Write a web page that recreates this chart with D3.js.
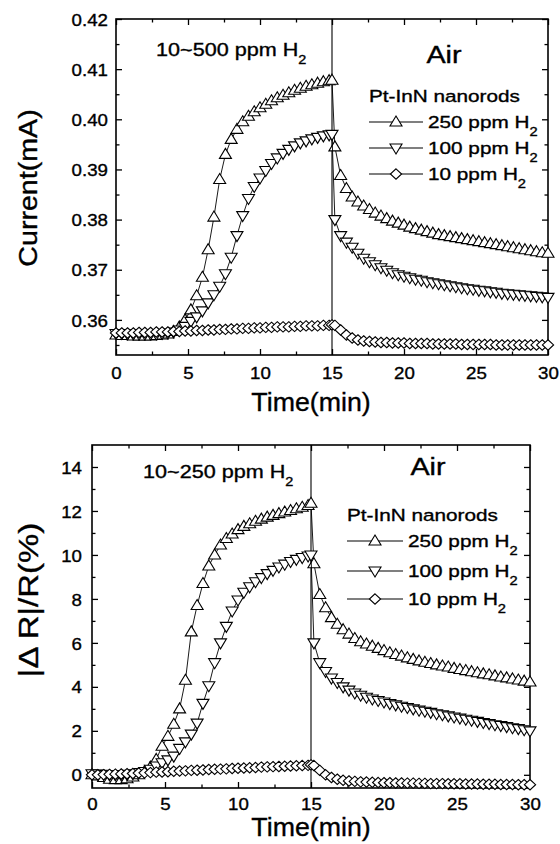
<!DOCTYPE html>
<html><head><meta charset="utf-8">
<script src="https://cdn.jsdelivr.net/npm/d3@7"></script>
<style>
html,body{margin:0;padding:0;background:#fff;}
svg{display:block;}
text{font-family:"Liberation Sans",Arial,Helvetica,sans-serif;fill:#000;stroke:#000;stroke-width:0.35px;}
</style>
</head><body>
<svg id="c" width="560" height="844"></svg>
<script>
// ---------------- DATA ----------------
const time = [0,0.4,0.8,1.2,1.6,2,2.4,2.8,3.2,3.6,4,4.4,4.8,5.2,5.6,6,6.4,6.8,7.2,7.6,8,8.4,8.8,9.2,9.6,10,10.4,10.8,11.2,11.6,12,12.4,12.8,13.2,13.6,14,14.4,14.8,15,
  15.2,15.6,16,16.4,16.8,17.2,17.6,18,18.4,18.8,19.2,19.6,20,20.4,20.8,21.2,21.6,22,22.4,22.8,23.2,23.6,24,24.4,24.8,25.2,25.6,26,26.4,26.8,27.2,27.6,28,28.4,28.8,29.2,29.6,30];

const current250 = [0.3570,0.3569,0.3569,0.3568,0.3568,0.3568,0.3568,0.3569,0.3570,0.3572,0.3577,0.3586,0.3600,0.3620,0.3648,0.3685,0.3740,0.3805,0.3880,0.3930,0.3960,0.3980,0.3995,0.4006,0.4015,0.4023,0.4030,0.4037,0.4043,0.4048,0.4053,0.4058,0.4062,0.4066,0.4069,0.4072,0.4075,0.4077,0.4078,
  0.3945,0.3888,0.3862,0.3845,0.3835,0.3827,0.3820,0.3813,0.3807,0.3802,0.3797,0.3793,0.3789,0.3785,0.3782,0.3779,0.3776,0.3773,0.3770,0.3768,0.3766,0.3764,0.3762,0.3760,0.3758,0.3756,0.3754,0.3752,0.3750,0.3748,0.3746,0.3744,0.3742,0.3740,0.3738,0.3736,0.3734,0.3733];
const current100 = [0.3573,0.3573,0.3572,0.3572,0.3572,0.3572,0.3572,0.3572,0.3573,0.3574,0.3576,0.3580,0.3587,0.3597,0.3606,0.3618,0.3634,0.3650,0.3667,0.3692,0.3725,0.3768,0.3808,0.3842,0.3866,0.3883,0.3898,0.3912,0.3923,0.3932,0.3940,0.3947,0.3953,0.3957,0.3961,0.3964,0.3967,0.3969,0.3970,
  0.3800,0.3768,0.3755,0.3745,0.3733,0.3723,0.3716,0.3710,0.3704,0.3699,0.3694,0.3690,0.3687,0.3684,0.3681,0.3679,0.3676,0.3674,0.3672,0.3670,0.3668,0.3666,0.3664,0.3662,0.3661,0.3659,0.3658,0.3656,0.3655,0.3653,0.3652,0.3651,0.3650,0.3649,0.3648,0.3647,0.3646,0.3645];
const current10 = [0.3574,0.3574,0.3574,0.3574,0.3575,0.3575,0.3575,0.3576,0.3576,0.3576,0.3577,0.3577,0.3578,0.3578,0.3579,0.3579,0.3580,0.3580,0.3581,0.3581,0.3582,0.3582,0.3583,0.3583,0.3584,0.3584,0.3585,0.3585,0.3586,0.3586,0.3586,0.3587,0.3587,0.3588,0.3588,0.3588,0.3589,0.3589,0.3590,
  0.3589,0.3580,0.3570,0.3564,0.3560,0.3558,0.3557,0.3556,0.3555,0.3555,0.3554,0.3554,0.3554,0.3553,0.3553,0.3553,0.3553,0.3552,0.3552,0.3552,0.3552,0.3552,0.3551,0.3551,0.3551,0.3551,0.3551,0.3551,0.3550,0.3550,0.3550,0.3550,0.3550,0.3550,0.3550,0.3550,0.3550,0.3550];

const resp250 = [0.0,-0.05,-0.12,-0.2,-0.22,-0.22,-0.18,-0.1,0.0,0.15,0.35,0.7,1.3,1.75,2.3,3.0,4.3,6.5,7.7,8.7,9.5,10.0,10.45,10.75,10.95,11.15,11.3,11.42,11.53,11.63,11.72,11.8,11.88,11.95,12.02,12.1,12.17,12.25,12.35,
  9.6,8.2,7.6,7.15,6.85,6.6,6.4,6.2,6.05,5.95,5.85,5.75,5.65,5.55,5.47,5.4,5.32,5.25,5.18,5.12,5.06,5.0,4.95,4.9,4.84,4.79,4.74,4.69,4.64,4.59,4.55,4.5,4.45,4.41,4.36,4.31,4.26,4.22];
const resp100 = [0.05,0.04,0.02,0.0,0.0,0.0,0.02,0.05,0.1,0.15,0.25,0.4,0.55,0.68,0.85,1.2,1.5,1.85,2.35,3.25,4.05,5.1,6.0,6.75,7.45,7.95,8.3,8.55,8.78,8.97,9.15,9.3,9.45,9.58,9.7,9.8,9.88,9.95,10.0,
  6.0,5.1,4.7,4.4,4.2,4.0,3.85,3.72,3.62,3.53,3.45,3.38,3.31,3.24,3.18,3.12,3.06,3.0,2.94,2.89,2.84,2.78,2.73,2.68,2.63,2.58,2.53,2.48,2.43,2.38,2.33,2.28,2.24,2.19,2.14,2.1,2.05,2.0];
const resp10 = [0.0,0.0,0.01,0.02,0.03,0.04,0.05,0.06,0.08,0.09,0.1,0.12,0.13,0.14,0.16,0.17,0.18,0.2,0.21,0.22,0.24,0.25,0.26,0.27,0.29,0.3,0.31,0.32,0.33,0.35,0.36,0.37,0.38,0.39,0.4,0.41,0.42,0.43,0.45,
  0.42,0.2,0.0,-0.12,-0.2,-0.25,-0.28,-0.3,-0.32,-0.33,-0.34,-0.35,-0.36,-0.36,-0.37,-0.37,-0.38,-0.38,-0.39,-0.39,-0.4,-0.4,-0.4,-0.41,-0.41,-0.41,-0.42,-0.42,-0.42,-0.43,-0.43,-0.43,-0.44,-0.44,-0.44,-0.45,-0.45,-0.45];

const seriesNames = ["250 ppm H", "100 ppm H", "10 ppm H"];
const seriesShapes = ["up", "down", "diamond"];
const switchTime = 15;

const xTicks = [0,5,10,15,20,25,30];
const xMinor = [2.5,7.5,12.5,17.5,22.5,27.5];
const topYTicks = [0.36,0.37,0.38,0.39,0.40,0.41,0.42];
const topYMinor = [0.355,0.365,0.375,0.385,0.395,0.405,0.415];
const botYTicks = [0,2,4,6,8,10,12,14];
const botYMinor = [1,3,5,7,9,11,13];

// ---------------- DRAW ----------------
const svg = d3.select("#c");
const shapePath = {
  up: "M0,-6L6,4L-6,4Z",
  down: "M0,6L6,-4L-6,-4Z",
  diamond: "M0,-5.2L5.6,0L0,5.2L-5.6,0Z"
};

function label(g, x, y, str, size, anchor, s, subSize, subDy) {
  const t = g.append("text")
    .attr("transform", `translate(${x},${y}) scale(${s},1)`)
    .attr("text-anchor", anchor || "start")
    .style("font-size", size + "px")
    .text(str);
  if (subSize) {
    t.append("tspan").attr("dy", subDy).style("font-size", subSize + "px").text("2");
  }
  return t;
}

function panel(cfg) {
  const g = svg.append("g");
  const x = d3.scaleLinear().domain([0, 30]).range([cfg.left, cfg.right]);
  const y = d3.scaleLinear().domain(cfg.yDomain).range([cfg.bottom, cfg.top]);
  const TS = 1.1;

  const ax = (axis, tr) => {
    const a = g.append("g").attr("transform", tr).call(axis);
    a.select(".domain").remove();
    a.selectAll("line").attr("stroke", "#000").attr("stroke-width", 1.3);
    a.attr("font-family", null).attr("font-size", null);
    return a;
  };
  const bx = ax(d3.axisBottom(x).tickValues(xTicks).tickSize(-6).tickPadding(cfg.xPad).tickFormat(d3.format("d")), `translate(0,${cfg.bottom})`);
  ax(d3.axisBottom(x).tickValues(xMinor).tickSize(-3.5).tickFormat(""), `translate(0,${cfg.bottom})`);
  ax(d3.axisTop(x).tickValues(xTicks).tickSize(-6).tickFormat(""), `translate(0,${cfg.top})`);
  ax(d3.axisTop(x).tickValues(xMinor).tickSize(-3.5).tickFormat(""), `translate(0,${cfg.top})`);
  const ly = ax(d3.axisLeft(y).tickValues(cfg.yTicks).tickSize(-6).tickPadding(cfg.yPad).tickFormat(cfg.yFormat), `translate(${cfg.left},0)`);
  ax(d3.axisLeft(y).tickValues(cfg.yMinor).tickSize(-3.5).tickFormat(""), `translate(${cfg.left},0)`);
  ax(d3.axisRight(y).tickValues(cfg.yTicks).tickSize(-6).tickFormat(""), `translate(${cfg.right},0)`);
  ax(d3.axisRight(y).tickValues(cfg.yMinor).tickSize(-3.5).tickFormat(""), `translate(${cfg.right},0)`);

  bx.selectAll("text").style("font-size", cfg.tickSize + "px").attr("transform", `scale(${TS},1)`);
  ly.selectAll("text").style("font-size", cfg.tickSize + "px").attr("x", -cfg.yPad / TS).attr("dy", "0.36em")
    .attr("transform", `scale(${TS},1)`);

  g.append("rect").attr("x", cfg.left).attr("y", cfg.top)
    .attr("width", cfg.right - cfg.left).attr("height", cfg.bottom - cfg.top)
    .attr("fill", "none").attr("stroke", "#000").attr("stroke-width", 1.6);

  g.append("line").attr("x1", x(switchTime)).attr("x2", x(switchTime))
    .attr("y1", cfg.top).attr("y2", cfg.bottom).attr("stroke", "#000").attr("stroke-width", 1.1);

  const line = d3.line().x((d, i) => x(time[i])).y(d => y(d));
  cfg.series.forEach((vals, si) => {
    const sg = g.append("g");
    sg.append("path").attr("d", line(vals)).attr("fill", "none").attr("stroke", "#000").attr("stroke-width", 0.9);
    sg.selectAll("path.m").data(vals).join("path").attr("class", "m")
      .attr("transform", (d, i) => `translate(${x(time[i])},${y(d)})`)
      .attr("d", shapePath[seriesShapes[si]])
      .attr("fill", "#fff").attr("stroke", "#000").attr("stroke-width", 1.1);
  });

  // axis titles
  label(g, cfg.xTitleX, cfg.xTitleY, "Time(min)", 25, "middle", 1.07);
  g.append("text")
    .attr("transform", `translate(${cfg.yTitleX},${cfg.yTitleY}) rotate(-90) scale(${cfg.yTitleS},1)`)
    .attr("text-anchor", "middle").style("font-size", cfg.yTitleSize + "px").text(cfg.yTitle);

  // annotations
  label(g, cfg.gasX, cfg.gasY, cfg.gasText, 18, "start", 1.2, 12, 8);
  label(g, cfg.airX, cfg.airY, "Air", 23, "middle", 1.25);
  label(g, cfg.legX, cfg.legTitleY, "Pt-InN nanorods", 17, "start", 1.22);
  seriesNames.forEach((nm, i) => {
    const yy = cfg.legRows[i];
    g.append("line").attr("x1", cfg.legX).attr("x2", cfg.legX + cfg.legLineW)
      .attr("y1", yy - 6).attr("y2", yy - 6).attr("stroke", "#000").attr("stroke-width", 1.1);
    g.append("path").attr("transform", `translate(${cfg.legX + cfg.legLineW / 2},${yy - 6})`)
      .attr("d", shapePath[seriesShapes[i]]).attr("fill", "#fff").attr("stroke", "#000").attr("stroke-width", 1.1);
    label(g, cfg.legX + cfg.legLineW + 5, yy, nm, 17, "start", 1.22, 12, 8);
  });
}

panel({
  left: 116, right: 548, top: 19, bottom: 355,
  yDomain: [0.353, 0.42], yTicks: topYTicks, yMinor: topYMinor, yFormat: d3.format(".2f"),
  xPad: 12, yPad: 8, tickSize: 17,
  xTitleX: 311, xTitleY: 411,
  yTitleX: 37, yTitleY: 188, yTitle: "Current(mA)", yTitleSize: 26, yTitleS: 1.1,
  series: [current250, current100, current10],
  gasText: "10~500 ppm H", gasX: 156, gasY: 56,
  airX: 444, airY: 63,
  legX: 369, legTitleY: 102, legLineW: 54, legRows: [128, 154, 180]
});

panel({
  left: 92, right: 530, top: 445, bottom: 788,
  yDomain: [-0.6, 15], yTicks: botYTicks, yMinor: botYMinor, yFormat: d3.format("d"),
  xPad: 10, yPad: 10, tickSize: 17,
  xTitleX: 311, xTitleY: 836,
  yTitleX: 38, yTitleY: 600, yTitle: "|\u0394 R|/R(%)", yTitleSize: 27, yTitleS: 1.22,
  series: [resp250, resp100, resp10],
  gasText: "10~250 ppm H", gasX: 143, gasY: 478,
  airX: 428, airY: 475,
  legX: 347, legTitleY: 521, legLineW: 56, legRows: [547, 577, 605]
});
</script>
</body></html>
